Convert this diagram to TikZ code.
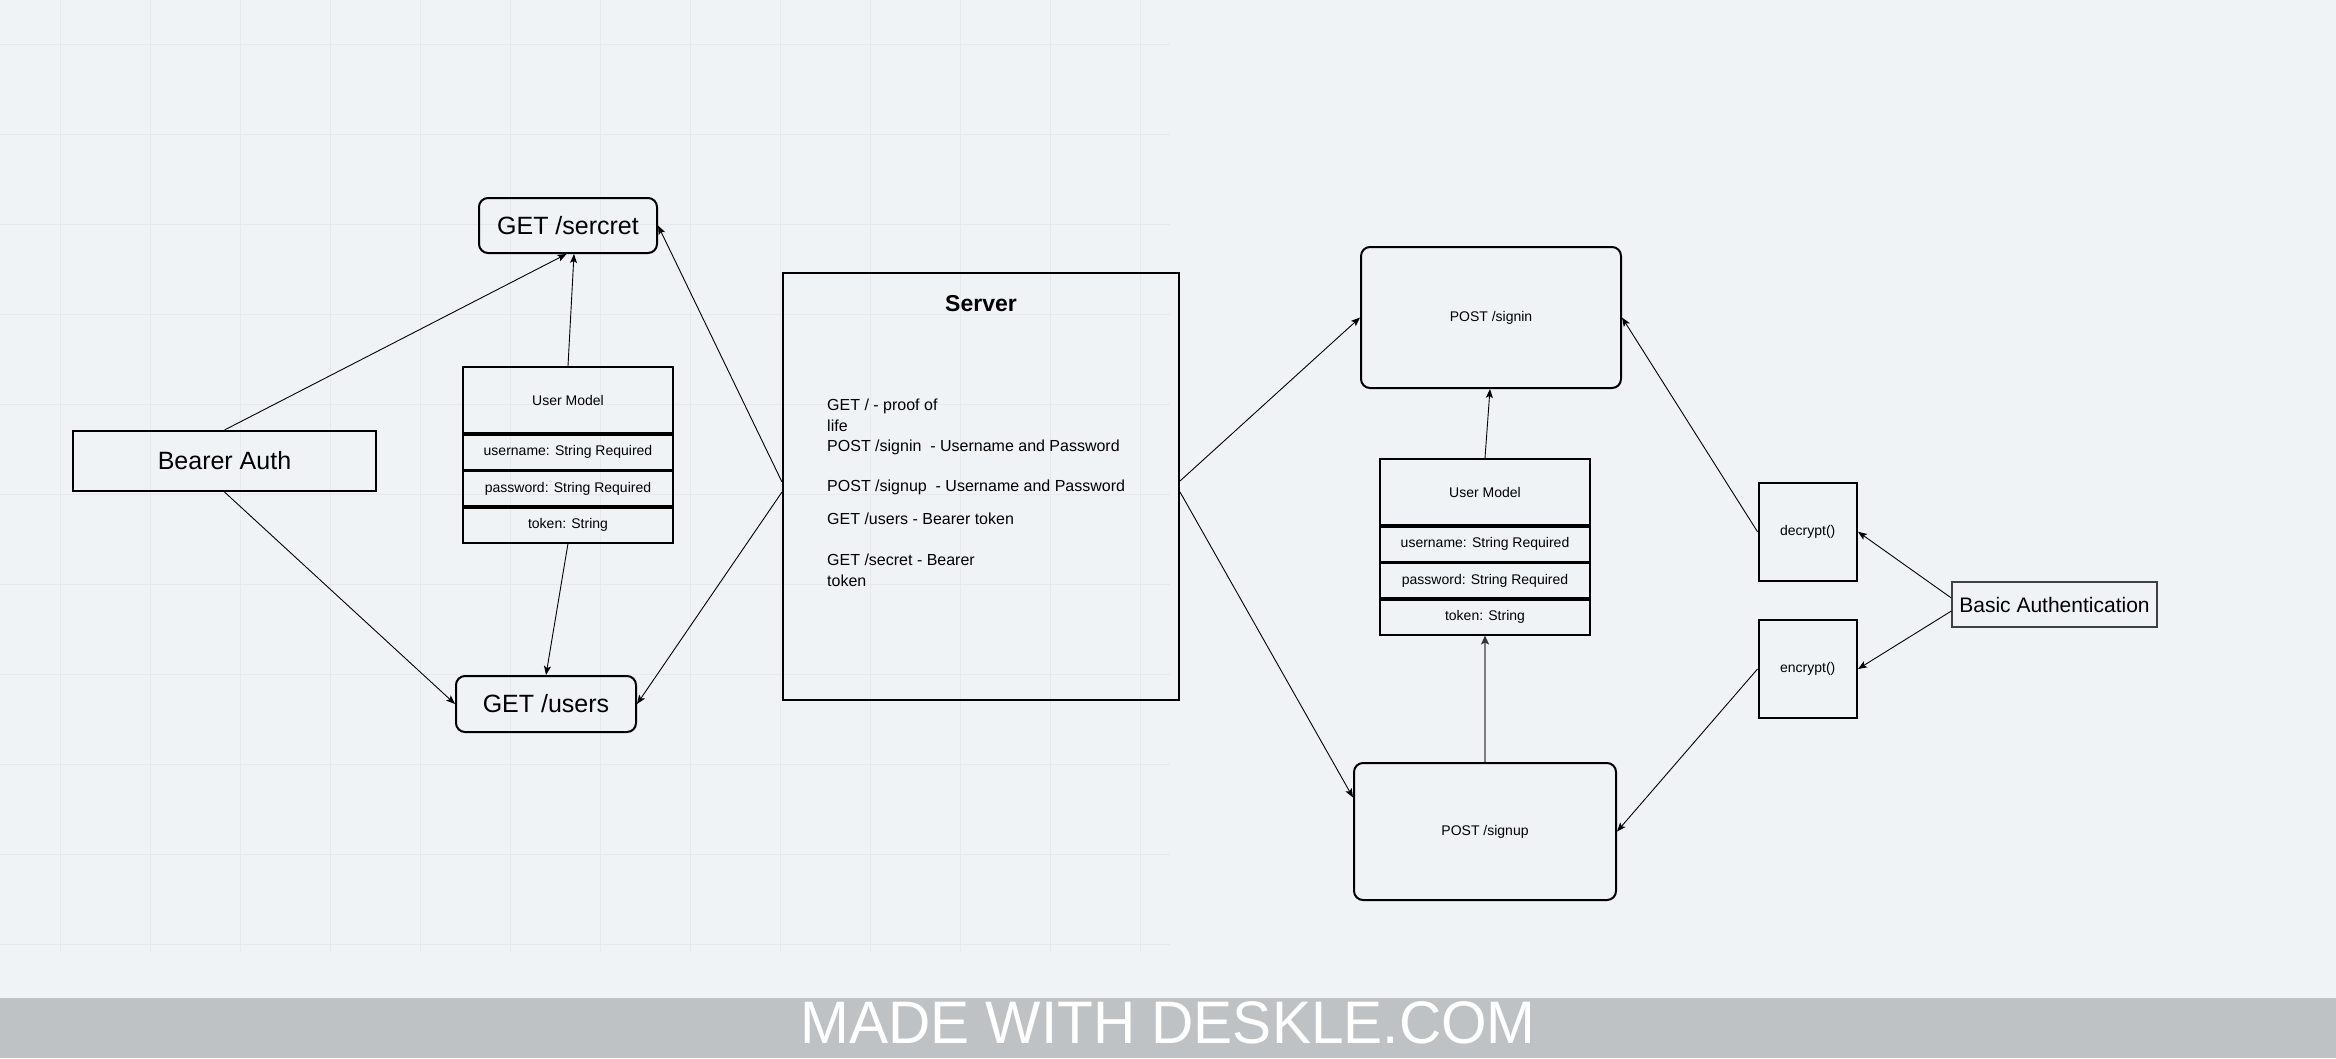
\documentclass[tikz,border=0pt]{standalone}
\usepackage{fontspec}
\setmainfont{Liberation Sans}
\usetikzlibrary{arrows.meta}
\definecolor{bgc}{RGB}{240,243,246}
\definecolor{gridc}{RGB}{229,233,237}
\definecolor{barc}{RGB}{191,194,196}
\definecolor{grayline}{RGB}{125,125,125}
\begin{document}
\begin{tikzpicture}[x=1pt,y=-1pt,
  box/.style={draw=black, line width=2pt, inner sep=0pt, rectangle, align=center, font=\fontsize{14}{17}\selectfont},
  rbox/.style={box, rounded corners=9pt},
  big/.style={font=\fontsize{25}{30}\selectfont},
  srvtxt/.style={anchor=base west, inner sep=0pt, font=\fontsize{16}{19}\selectfont},
  conn/.style={line width=0.9pt, -{Stealth[length=9pt,width=7pt,inset=2pt]}}
]
\useasboundingbox (0,0) rectangle (2336,1058);
\fill[bgc] (0,0) rectangle (2336,1058);
% background grid
\foreach \x in {60,150,...,1140} \draw[gridc, line width=1pt] (\x,0) -- (\x,952);
\foreach \y in {44,134,...,944} \draw[gridc, line width=1pt] (0,\y) -- (1170,\y);
% bottom bar
\fill[barc] (0,998) rectangle (2336,1058);
\node[anchor=base, inner sep=0pt, text=white, font=\fontsize{60}{60}\selectfont, xscale=0.976] (made) at (1168,1043) {MADE WITH DESKLE.COM};

% left side
\node[box, big, minimum width=303pt, minimum height=60pt] (bearer) at (224.5,461) {Bearer Auth};
\node[rbox, big, minimum width=178pt, minimum height=55pt] (secret) at (568,225.5) {GET /sercret};
\node[rbox, big, minimum width=180pt, minimum height=56pt] (users) at (546,704) {GET /users};

\node[box, minimum width=210pt, minimum height=66pt] (lhead) at (568,400) {User Model};
\node[box, minimum width=210pt, minimum height=35pt] (luser) at (568,452) {username: String Required};
\node[box, minimum width=210pt, minimum height=35pt] (lpass) at (568,488.5) {password: String Required};
\node[box, minimum width=210pt, minimum height=35pt] (ltok) at (568,525) {token: String};

% server
\node[box, minimum width=396pt, minimum height=427pt] (server) at (981,486.5) {};
\node[anchor=base, inner sep=0pt, font=\fontsize{23}{27}\bfseries] (srvtitle) at (981,311.7) {Server};
\node[srvtxt] (s1) at (827,410.7) {GET / - proof of};
\node[srvtxt] (s2) at (827,431.7) {life};
\node[srvtxt] (s3) at (827,451) {POST /signin\ \ - Username and Password};
\node[srvtxt] (s4) at (827,491) {POST /signup\ \ - Username and Password};
\node[srvtxt] (s5) at (827,524) {GET /users - Bearer token};
\node[srvtxt] (s6) at (827,565) {GET /secret - Bearer};
\node[srvtxt] (s7) at (827,586.7) {token};

% right side
\node[rbox, minimum width=260pt, minimum height=141pt] (signin) at (1491,317.5) {POST /signin};
\node[rbox, minimum width=262pt, minimum height=137pt] (signup) at (1485,831.5) {POST /signup};

\node[box, minimum width=210pt, minimum height=66pt] (rhead) at (1485,492) {User Model};
\node[box, minimum width=210pt, minimum height=35pt] (ruser) at (1485,544) {username: String Required};
\node[box, minimum width=210pt, minimum height=35pt] (rpass) at (1485,580.5) {password: String Required};
\node[box, minimum width=210pt, minimum height=35pt] (rtok) at (1485,617) {token: String};

\node[box, minimum width=98.5pt, minimum height=98.5pt] (decrypt) at (1807.75,531.75) {decrypt()};
\node[box, minimum width=98.5pt, minimum height=98pt] (encrypt) at (1807.75,669) {encrypt()};
\node[box, draw=black!75, line width=1.3pt, font=\fontsize{21}{25}\selectfont, minimum width=205pt, minimum height=45pt] (basic) at (2054.5,604.5) {Basic Authentication};

% connectors left
\draw[conn] (bearer.north) -- ([xshift=-1.5pt]secret.south);
\draw[conn] (lhead.north) -- ([xshift=6pt]secret.south);
\draw[conn] ([yshift=4.5pt]server.west) -- (secret.east);
\draw[conn] ([yshift=-5.5pt]server.west) -- (users.east);
\draw[conn] (bearer.south) -- (users.west);
\draw[conn] (ltok.south) -- (users.north);

% connectors right
\draw[conn] ([yshift=5.5pt]server.east) -- (signin.west);
\draw[conn] ([yshift=-5.5pt]server.east) -- ([yshift=34pt]signup.west);
\draw[conn] (rhead.north) -- ([xshift=-1pt]signin.south);
\draw[line width=2pt, draw=grayline, -{Stealth[length=9pt,width=8pt,inset=2pt,color=black!80]}] (signup.north) -- (rtok.south);
\draw[conn] (decrypt.west) -- (signin.east);
\draw[conn] (encrypt.west) -- (signup.east);
\draw[conn] ([yshift=6.5pt]basic.west) -- (decrypt.east);
\draw[conn] ([yshift=-6.5pt]basic.west) -- (encrypt.east);
\end{tikzpicture}
\end{document}
